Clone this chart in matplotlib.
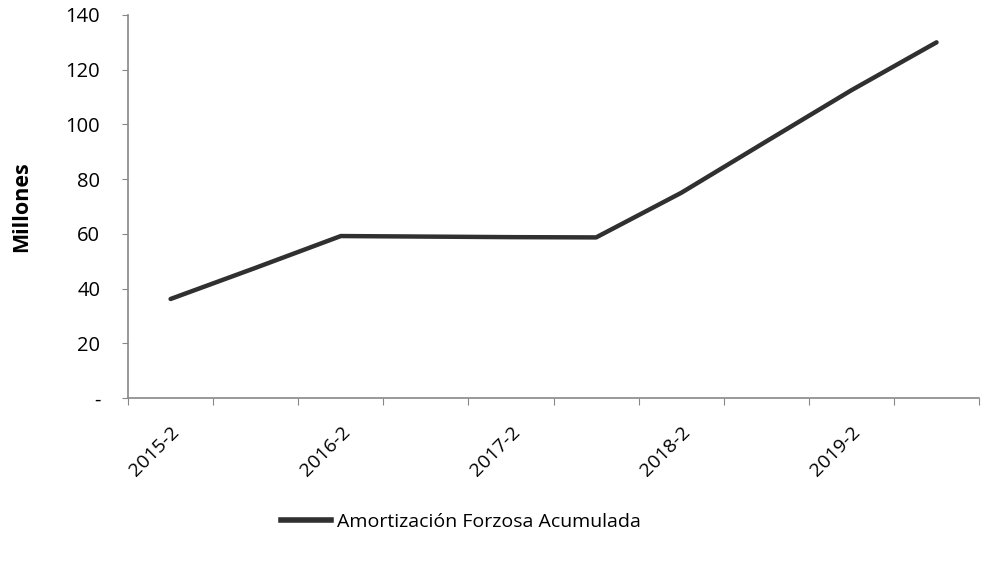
import matplotlib.pyplot as plt
from matplotlib.lines import Line2D

plt.rcParams['font.family'] = ['Open Sans', 'DejaVu Sans']

# semesters, only every other one is labelled on the axis
periodos = ['2015-2', '2016-1', '2016-2', '2017-1', '2017-2',
            '2018-1', '2018-2', '2019-1', '2019-2', '2020-1']
amortizacion = [36.2, 47.6, 59.2, 59.0, 58.8, 58.7, 75.0, 93.8, 112.5, 130.0]
y_ticks = [0, 20, 40, 60, 80, 100, 120, 140]
y_labels = ['-', '20', '40', '60', '80', '100', '120', '140']

fig = plt.figure(figsize=(9.85, 5.76), dpi=100)
ax = fig.add_axes([0.130, 0.309, 0.864, 0.665])

x = list(range(len(periodos)))
ax.plot(x, amortizacion, color='#303030', linewidth=3.2, solid_capstyle='round')

ax.set_xlim(-0.5, len(periodos) - 0.5)
ax.set_ylim(0, 140)

# ticks between categories, labels on every second category
ax.set_xticks([i - 0.5 for i in range(len(periodos) + 1)])
ax.set_xticklabels([])
ax.set_xticks(x[::2], minor=True)
ax.set_xticklabels(periodos[::2], minor=True, rotation=45, ha='right',
                   rotation_mode='anchor', fontsize=14)
ax.tick_params(axis='x', which='minor', length=0, pad=18)
ax.tick_params(axis='x', which='major', length=5, color='#888888', direction='out')

ax.set_yticks(y_ticks)
ax.set_yticklabels(y_labels, fontsize=14.5)
ax.tick_params(axis='y', length=4, color='#888888', pad=16)

for s in ['top', 'right']:
    ax.spines[s].set_visible(False)
for s in ['left', 'bottom']:
    ax.spines[s].set_color('#888888')
    ax.spines[s].set_linewidth(1.2)

ax.set_ylabel('Millones', fontsize=15.5, fontweight='bold', labelpad=24)

handle = Line2D([], [], color='#303030', linewidth=4)
fig.legend([handle], ['Amortización Forzosa Acumulada'], loc='center',
           bbox_to_anchor=(0.468, 0.094), frameon=False, fontsize=14,
           handlelength=2.6, handletextpad=0.3)

fig.savefig('out.png', dpi=100)
